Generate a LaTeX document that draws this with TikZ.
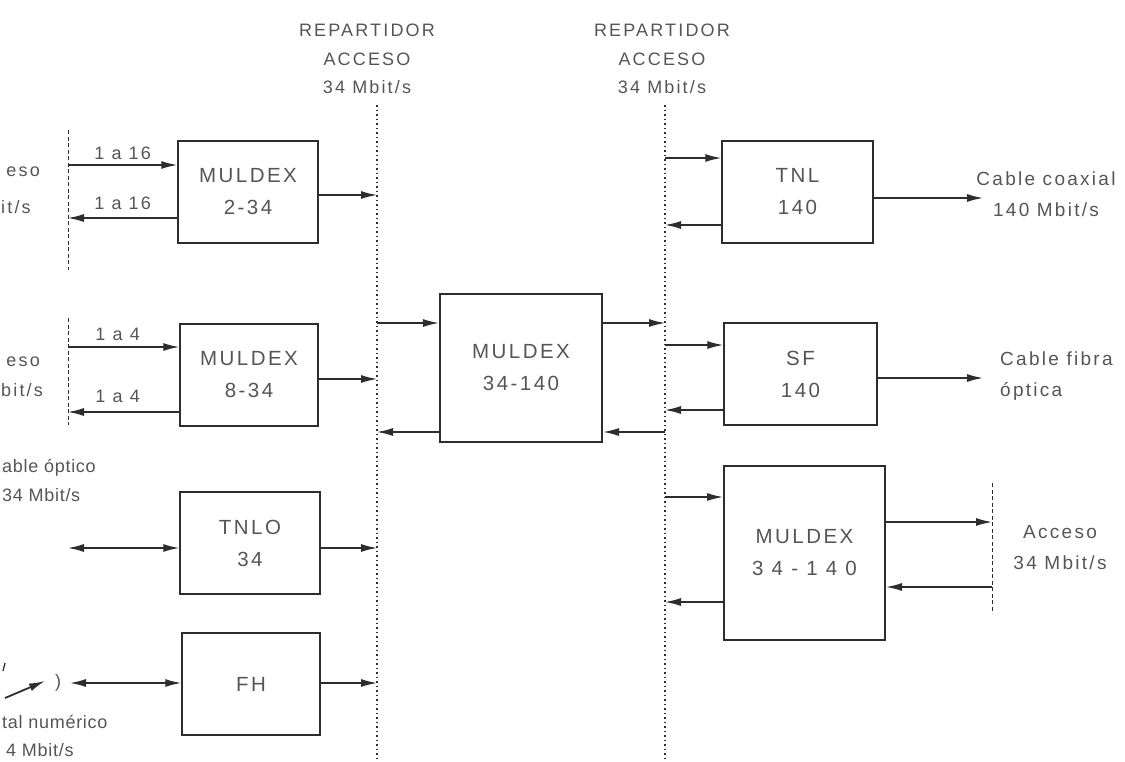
\documentclass[tikz,border=0pt]{standalone}
\usepackage{fontspec}
\setmainfont[LetterSpace=12]{Liberation Sans}
\usetikzlibrary{arrows.meta,calc}
\definecolor{txt}{RGB}{85,85,85}
\definecolor{linec}{RGB}{45,45,45}
\begin{document}
\begin{tikzpicture}[x=1pt,y=-1pt,
  blk/.style={draw=linec, line width=1.5pt, minimum width=#1, inner sep=0pt, align=center,
    text=txt, font=\fontsize{20.5}{32}\selectfont},
  tip/.tip={Latex[length=16pt,width=8pt]},
  arr/.style={draw=linec, line width=1.4pt, -tip},
  darr/.style={draw=linec, line width=1.4pt, tip-tip},
  rep/.style={draw=linec, line width=1.4pt, dash pattern=on 1.5pt off 3pt},
  acc/.style={draw=linec, line width=1pt, dash pattern=on 4pt off 2.5pt},
  lbl/.style={text=txt, font=\fontsize{19}{31}\selectfont, align=center, inner sep=0pt},
  sml/.style={text=txt, font=\fontsize{18}{28}\selectfont, inner sep=0pt}]
\useasboundingbox (0,0) rectangle (1125,761);

% repartidor lines
\coordinate (rl1t) at (377,105); \coordinate (rl1b) at (377,761);
\coordinate (rl2t) at (665,105); \coordinate (rl2b) at (665,761);
\draw[rep] (rl1t) -- (rl1b);
\draw[rep] (rl2t) -- (rl2b);
\node[lbl, font=\fontsize{18}{28.5}\selectfont] (rep1) at (367,59) {REPARTIDOR\\ACCESO\\34 Mbit/s};
\node[lbl, font=\fontsize{18}{28.5}\selectfont] (rep2) at (662,59) {REPARTIDOR\\ACCESO\\34 Mbit/s};

% left access lines
\coordinate (a1t) at (68,130); \coordinate (a1b) at (68,270);
\coordinate (a2t) at (68,318); \coordinate (a2b) at (68,425);
\draw[acc] (a1t) -- (a1b);
\draw[acc] (a2t) -- (a2b);

% boxes
\node[blk=140pt, minimum height=102pt] (m234) at (248,192) {MULDEX\\2-34};
\node[blk=138pt, minimum height=102pt] (m834) at (249,375) {MULDEX\\8-34};
\node[blk=140pt, minimum height=102pt] (tnlo) at (250,543) {TNLO\\34};
\node[blk=138pt, minimum height=102pt] (fh) at (251,684) {FH};
\node[blk=162pt, minimum height=148pt, line width=2.2pt] (mc) at (521,368) {MULDEX\\34-140};
\node[blk=151pt, minimum height=102pt] (tnl) at (797.5,192) {TNL\\140};
\node[blk=153pt, minimum height=102pt] (sf) at (800.5,374) {SF\\140};
\node[blk=161pt, minimum height=174pt, line width=2pt] (m2) at (804.5,553) {MULDEX\\{\addfontfeature{LetterSpace=40}34-140}};

% left-side labels (cut by the page edge)
\node[sml, anchor=east] (t1) at (40,172) {eso};
\node[sml, anchor=west] (t2) at (1,207) {it/s};
\node[sml, anchor=east] (t3) at (40,362) {eso};
\node[sml, anchor=west] (t4) at (1,390) {bit/s};
\node[sml, anchor=west, font=\fontsize{18}{28}\addfontfeature{LetterSpace=4}\selectfont] (t5) at (2,468) {able óptico};
\node[sml, anchor=west, font=\fontsize{18}{28}\addfontfeature{LetterSpace=4}\selectfont] (t6) at (2,495) {34 Mbit/s};
\node[sml, anchor=west, font=\fontsize{18}{28}\addfontfeature{LetterSpace=4}\selectfont] (t7) at (2,722) {tal numérico};
\node[sml, anchor=west, font=\fontsize{18}{28}\addfontfeature{LetterSpace=4}\selectfont] (t8) at (6,750) {4 Mbit/s};

% antenna symbol
\coordinate (ant1) at (5,698); \coordinate (ant2) at (45,681);
\draw[arr, line width=1.8pt] (ant1) -- (ant2);
\draw[linec, line width=1.3pt] (3,671) -- (5,663);
\node[sml] (par) at (58,683) {)};

% MULDEX 2-34
\coordinate (a1i) at (68,165); \coordinate (a1o) at (68,218); \coordinate (r1) at (377,195);
\draw[arr] (a1i) -- node[sml, midway, above=5pt] {1 a 16} (m234.west |- a1i);
\draw[arr] (m234.west |- a1o) -- node[sml, midway, above=8pt] {1 a 16} (a1o);
\draw[arr] (m234.east |- r1) -- (r1);

% MULDEX 8-34
\coordinate (a2i) at (68,347); \coordinate (a2o) at (68,412); \coordinate (r2) at (377,379);
\draw[arr] (a2i) -- node[sml, midway, above=6pt, xshift=-6pt] {1 a 4} (m834.west |- a2i);
\draw[arr] (m834.west |- a2o) -- node[sml, midway, above=9pt, xshift=-6pt] {1 a 4} (a2o);
\draw[arr] (m834.east |- r2) -- (r2);

% TNLO 34
\coordinate (a3) at (68,548); \coordinate (r3) at (377,548);
\draw[darr] (a3) -- (tnlo.west |- a3);
\draw[arr] (tnlo.east |- r3) -- (r3);

% FH
\coordinate (a4) at (70,683); \coordinate (r4) at (377,683);
\draw[darr] (a4) -- (fh.west |- a4);
\draw[arr] (fh.east |- r4) -- (r4);

% central MULDEX
\coordinate (r5) at (377,323); \coordinate (r6) at (377,432);
\coordinate (s1) at (665,323); \coordinate (s2) at (665,432);
\draw[arr] (r5) -- (mc.west |- r5);
\draw[arr] (mc.west |- r6) -- (r6);
\draw[arr] (mc.east |- s1) -- (s1);
\draw[arr] (s2) -- (mc.east |- s2);

% TNL 140
\coordinate (s3) at (665,158); \coordinate (s4) at (665,225); \coordinate (o1) at (983,198);
\draw[arr] (s3) -- (tnl.west |- s3);
\draw[arr] (tnl.west |- s4) -- (s4);
\draw[arr] (tnl.east |- o1) -- (o1);
\node[lbl] (coax) at (1046,194) {Cable coaxial\\140 Mbit/s};

% SF 140
\coordinate (s5) at (665,345); \coordinate (s6) at (665,410); \coordinate (o2) at (983,378);
\draw[arr] (s5) -- (sf.west |- s5);
\draw[arr] (sf.west |- s6) -- (s6);
\draw[arr] (sf.east |- o2) -- (o2);
\node[lbl, anchor=west, align=left] (fib) at (1000,376) {Cable fibra\\óptica};

% MULDEX 34-140 (right)
\coordinate (s7) at (665,497); \coordinate (s8) at (665,602);
\draw[arr] (s7) -- (m2.west |- s7);
\draw[arr] (m2.west |- s8) -- (s8);
\coordinate (b1t) at (992,483); \coordinate (b1b) at (992,613);
\draw[acc] (b1t) -- (b1b);
\coordinate (b1i) at (992,522); \coordinate (b1o) at (992,587);
\draw[arr] (m2.east |- b1i) -- (b1i);
\draw[arr] (b1o) -- (m2.east |- b1o);
\node[lbl] (acc34) at (1060,548) {Acceso\\34 Mbit/s};
\end{tikzpicture}
\end{document}
